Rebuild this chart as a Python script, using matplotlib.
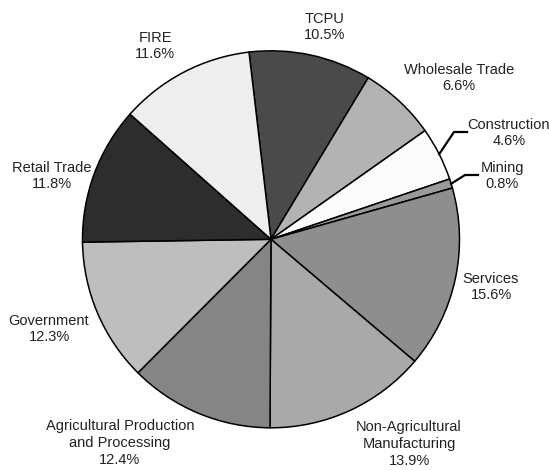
import numpy as np
import matplotlib
matplotlib.use("Agg")
from matplotlib import pyplot as plt

# sector shares, clockwise starting at 12 o'clock-ish
sectors = ["TCPU", "Wholesale Trade", "Construction", "Mining", "Services",
           "Non-Agricultural\nManufacturing", "Agricultural Production\nand Processing",
           "Government", "Retail Trade", "FIRE"]
shares = [10.5, 6.6, 4.6, 0.8, 15.6, 13.9, 12.4, 12.3, 11.8, 11.6]
greys = ["#4a4a4a", "#b3b3b3", "#fbfbfb", "#9a9a9a", "#8e8e8e",
         "#a9a9a9", "#858585", "#bebebe", "#2d2d2d", "#eeeeee"]

# label block centres in pixels (from top-left)
label_px = [(325, 27), (459, 78), (509, 133), (502, 176), (491, 287),
            (409, 444), (120, 443), (49, 329), (52, 176), (155, 46)]

W, H = 549, 470
CX, CY, R = 271, 239.3, 188.5
START = 96.7


def px(x, y):
    return (x - CX) / R, (CY - y) / R


plt.rcParams['font.family'] = ['Liberation Sans', 'DejaVu Sans']

fig = plt.figure(figsize=(W / 100, H / 100), dpi=100)
ax = fig.add_axes([0, 0, 1, 1])
wedges, _ = ax.pie(shares, colors=greys, startangle=START, counterclock=False,
                   wedgeprops=dict(edgecolor="black", linewidth=1.1))
ax.set_aspect("auto")
ax.set_xlim(-CX / R, (W - CX) / R)
ax.set_ylim(-(H - CY) / R, CY / R)
ax.axis("off")

for name, val, (lx, ly) in zip(sectors, shares, label_px):
    x, y = px(lx, ly)
    ax.text(x, y, f"{name}\n{val}%", ha="center", va="center",
            fontsize=10.5, color="#222222", linespacing=1.25)

# leader lines for the two thin slices
cum = np.cumsum([0] + shares)
leaders = {2: [(454, 132), (467, 132)], 3: [(465, 175), (478, 175)]}
for i, pts in leaders.items():
    mid = np.deg2rad(START - 3.6 * (cum[i] + cum[i + 1]) / 2)
    xs = [np.cos(mid)] + [px(*p)[0] for p in pts]
    ys = [np.sin(mid)] + [px(*p)[1] for p in pts]
    ax.plot(xs, ys, color="black", linewidth=1.6)

fig.savefig("out.png", dpi=100)
